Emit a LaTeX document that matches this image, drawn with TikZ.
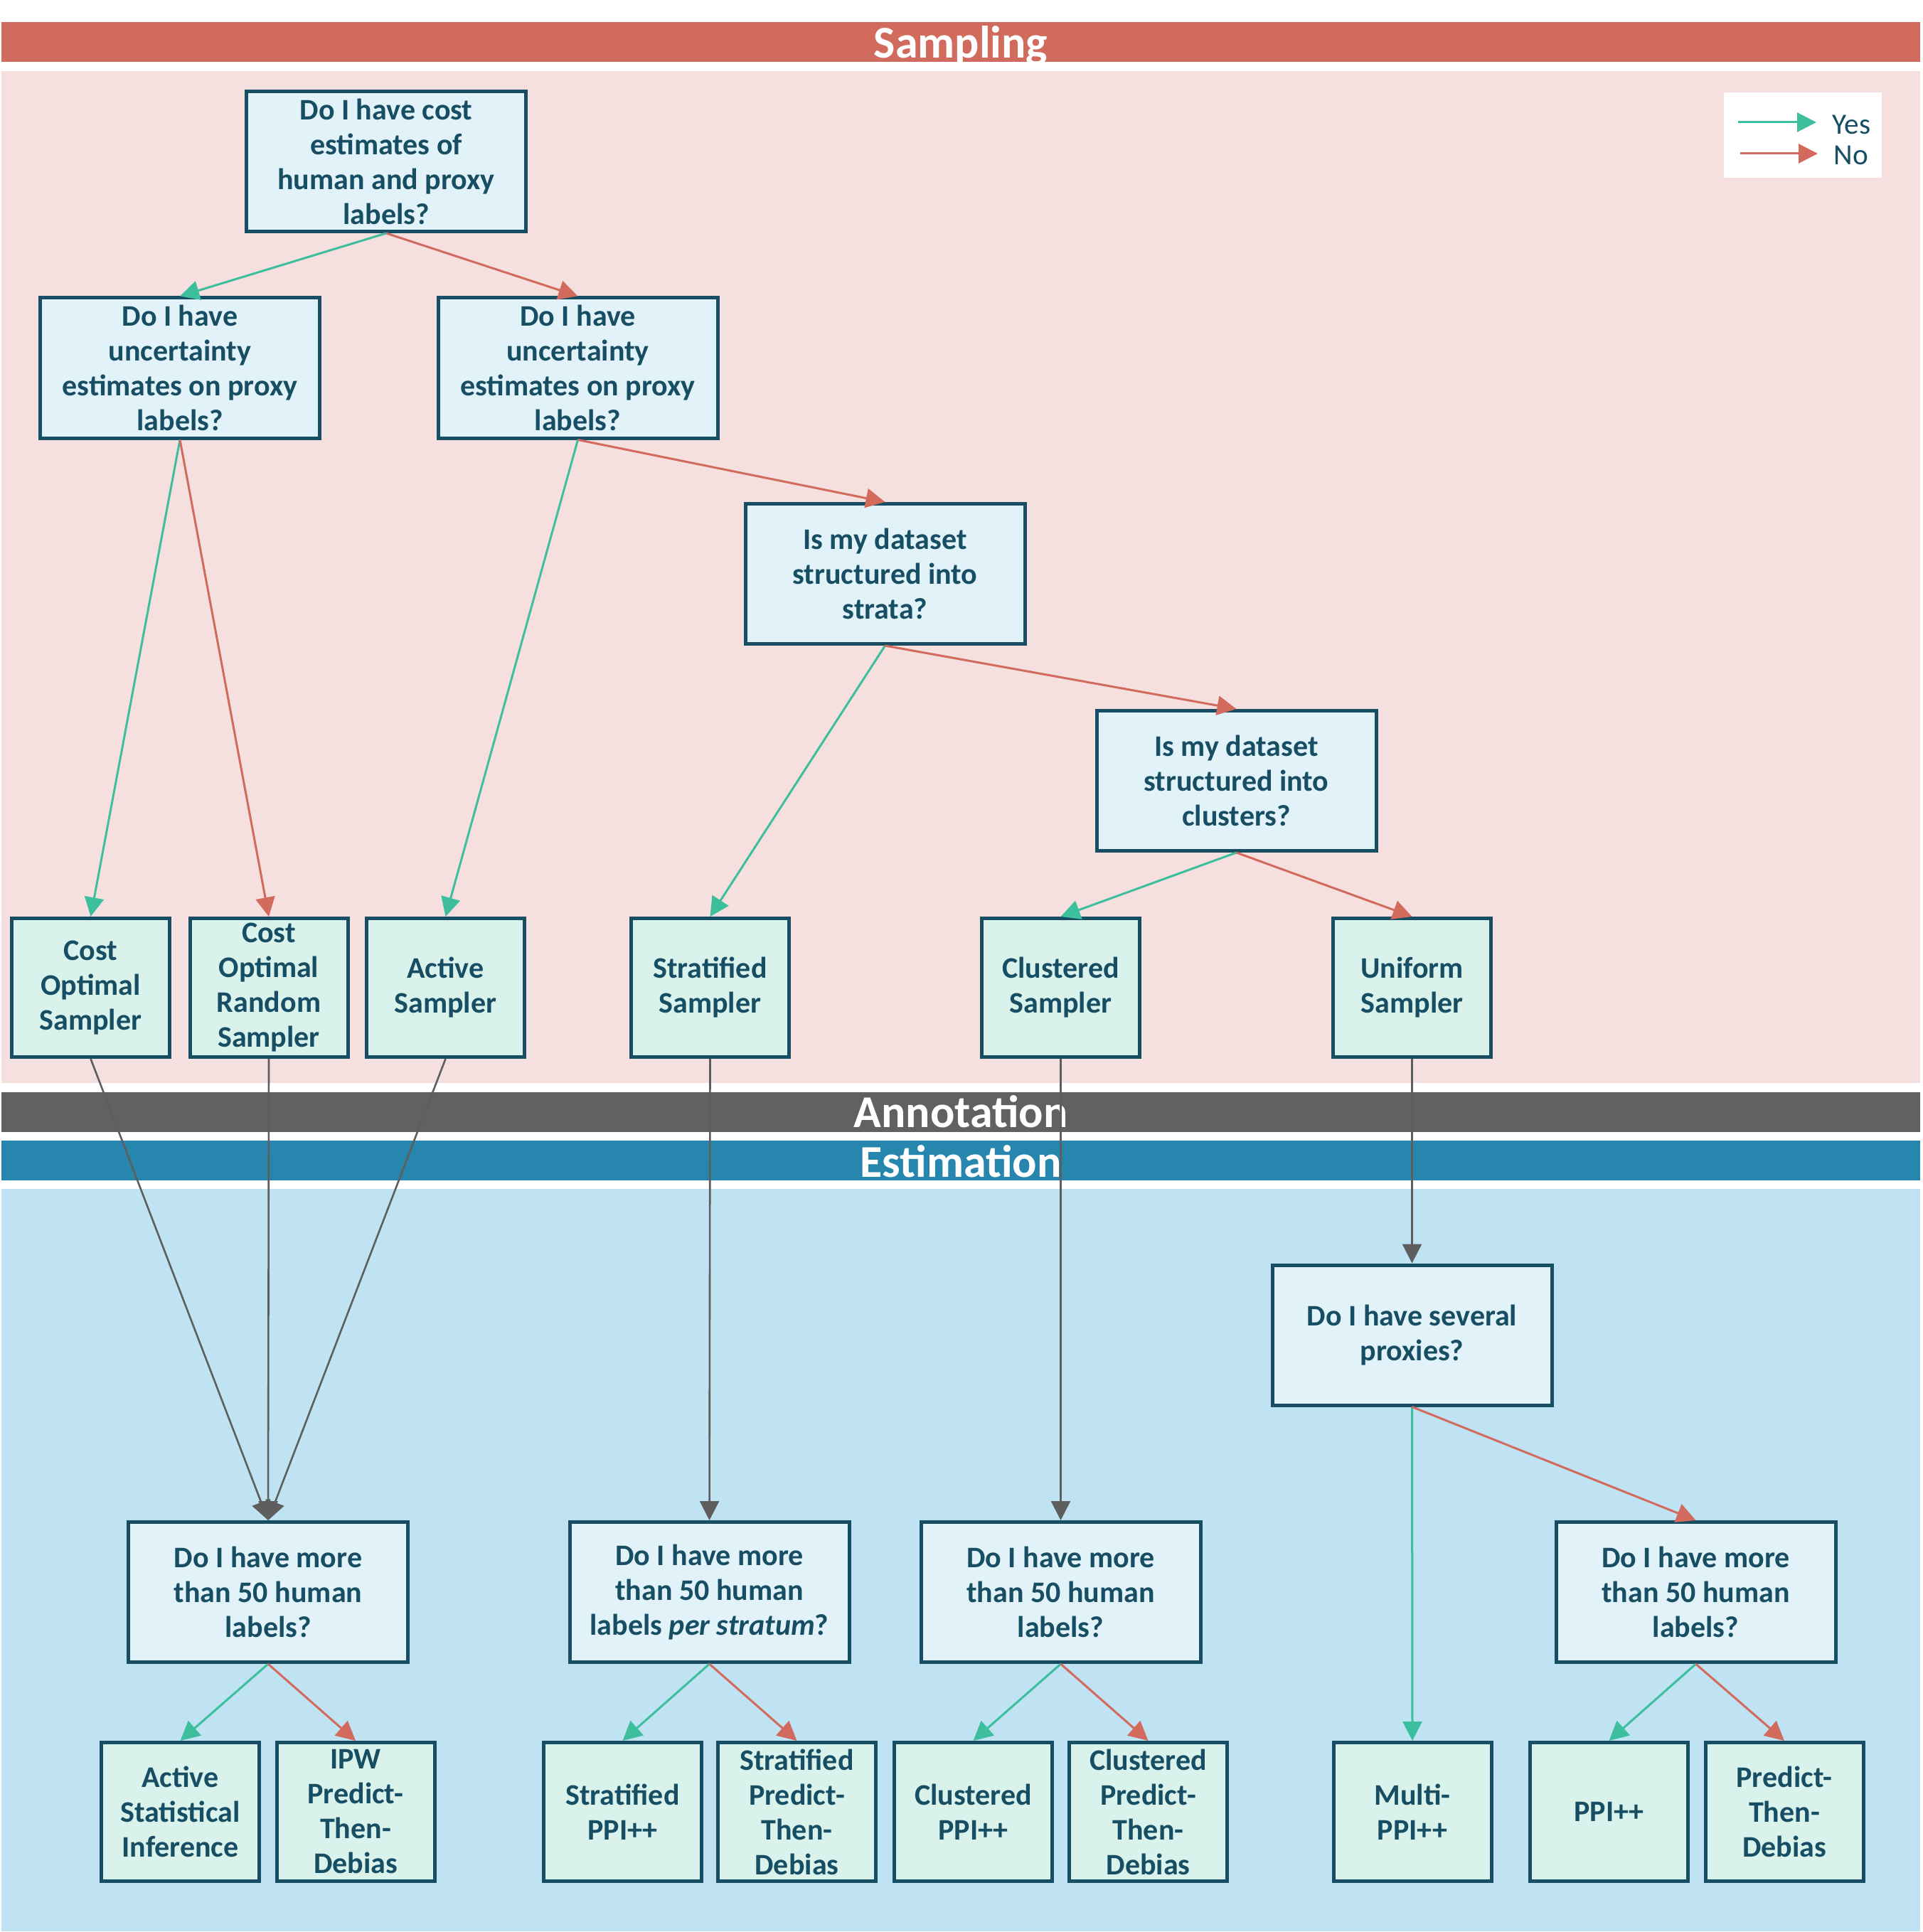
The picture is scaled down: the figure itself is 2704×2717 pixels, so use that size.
\documentclass[tikz,border=0pt]{standalone}
\usepackage{fontspec}
\setmainfont{Carlito}
\usetikzlibrary{arrows.meta}
\definecolor{sampband}{HTML}{D16B5E}
\definecolor{sampbg}{HTML}{F5E0DF}
\definecolor{annband}{HTML}{616161}
\definecolor{estband}{HTML}{2686AD}
\definecolor{estbg}{HTML}{BFE3F2}
\definecolor{qfill}{HTML}{E1F2F9}
\definecolor{lfill}{HTML}{D9F2EC}
\definecolor{bord}{HTML}{174E63}
\definecolor{yescol}{HTML}{3DBF9E}
\definecolor{nocol}{HTML}{D26A5D}
\definecolor{greycol}{HTML}{5E5E5E}
\tikzset{
  boxbase/.style={draw=bord, line width=1.25pt, inner sep=0pt, align=center, text=bord,
    font=\bfseries\fontsize{10.5}{12.25}\selectfont},
  qbox/.style={boxbase, fill=qfill, minimum width=98.25pt, minimum height=49.25pt},
  leafbox/.style={boxbase, fill=lfill, minimum width=55.5pt, minimum height=48.75pt},
  tipped/.style={line width=0.75pt, -{Triangle[length=6.75pt,width=6.75pt]}},
  yesedge/.style={tipped, draw=yescol, fill=yescol},
  noedge/.style={tipped, draw=nocol, fill=nocol},
  greyedge/.style={tipped, draw=greycol, fill=greycol, line width=0.65pt},
  bandtext/.style={text=white, font=\bfseries\fontsize{16}{19}\selectfont, inner sep=0pt, anchor=base},
  legtext/.style={text=bord, font=\fontsize{10.3}{12}\selectfont, inner sep=0pt, anchor=base west}
}
\begin{document}
\begin{tikzpicture}[x=0.25pt,y=-0.25pt]
\useasboundingbox (0,0) rectangle (2704,2717);
% backgrounds
\fill[sampbg] (2,100) rectangle (2700,1523);
\fill[estbg] (2,1672) rectangle (2700,2716);
% bands
\fill[sampband] (2,31) rectangle (2700,87);
\fill[annband] (2,1536) rectangle (2700,1592);
\fill[estband] (2,1604) rectangle (2700,1660);
\node[bandtext] (tsamp) at (1351,82) {Sampling};
\node[bandtext] (tann) at (1351,1585) {Annotation};
\node[bandtext] (test) at (1351,1655) {Estimation};
% legend
\node[fill=white, minimum width=55.5pt, minimum height=30pt, inner sep=0pt] (legbox) at (2535,190) {};
\coordinate (ys) at (2444,172);
\coordinate (ye) at (2554,172);
\coordinate (ns) at (2447,216);
\coordinate (ne) at (2556,216);
\node[legtext] (lyes) at (2576,189) {Yes};
\node[legtext] (lno) at (2578,232) {No};
\draw[yesedge] (ys) -- (ye);
\draw[noedge] (ns) -- (ne);
% sampling questions
\node[qbox] (q0) at (543,227) {Do I have cost\\estimates of\\human and proxy\\labels?};
\node[qbox] (q1) at (253,517.5) {Do I have\\uncertainty\\estimates on proxy\\labels?};
\node[qbox] (q2) at (812.5,517.5) {Do I have\\uncertainty\\estimates on proxy\\labels?};
\node[qbox] (qs) at (1244.5,807) {Is my dataset\\structured into\\strata?};
\node[qbox] (qc) at (1738.5,1098) {Is my dataset\\structured into\\clusters?};
% samplers
\node[leafbox] (cos) at (127.5,1389) {Cost\\Optimal\\Sampler};
\node[leafbox] (cor) at (378,1389) {Cost\\Optimal\\Random\\Sampler};
\node[leafbox] (act) at (626.5,1389) {Active\\Sampler};
\node[leafbox] (str) at (998.5,1389) {Stratified\\Sampler};
\node[leafbox] (clu) at (1491.5,1389) {Clustered\\Sampler};
\node[leafbox] (uni) at (1985.5,1389) {Uniform\\Sampler};
% estimation questions
\node[qbox] (qp) at (1985.5,1877.5) {Do I have several\\proxies?};
\node[qbox] (qa) at (377,2239) {Do I have more\\than 50 human\\labels?};
\node[qbox] (qb) at (997.5,2239) {Do I have more\\than 50 human\\labels \textit{per stratum}?};
\node[qbox] (qcc) at (1491.5,2239) {Do I have more\\than 50 human\\labels?};
\node[qbox] (qd) at (2384.5,2239) {Do I have more\\than 50 human\\labels?};
% estimators
\node[leafbox] (asi) at (253.5,2548) {Active\\Statistical\\Inference};
\node[leafbox] (ipw) at (500,2548) {IPW\\Predict-\\Then-\\Debias};
\node[leafbox] (sppi) at (875.5,2548) {Stratified\\PPI++};
\node[leafbox] (sptd) at (1120.5,2548) {Stratified\\Predict-\\Then-\\Debias};
\node[leafbox] (cppi) at (1368.5,2548) {Clustered\\PPI++};
\node[leafbox] (cptd) at (1614.5,2548) {Clustered\\Predict-\\Then-\\Debias};
\node[leafbox] (mppi) at (1986,2548) {Multi-\\PPI++};
\node[leafbox] (ppi) at (2262.5,2548) {PPI++};
\node[leafbox] (ptd) at (2509,2548) {Predict-\\Then-\\Debias};
% sampling edges
\draw[yesedge] (q0.south) -- (q1.north);
\draw[noedge] (q0.south) -- (q2.north);
\draw[yesedge] (q1.south) -- (cos.north);
\draw[noedge] (q1.south) -- (cor.north);
\draw[yesedge] (q2.south) -- (act.north);
\draw[noedge] (q2.south) -- (qs.north);
\draw[yesedge] (qs.south) -- (str.north);
\draw[noedge] (qs.south) -- (qc.north);
\draw[yesedge] (qc.south) -- (clu.north);
\draw[noedge] (qc.south) -- (uni.north);
% annotation edges
\draw[greyedge] (cos.south) -- (qa.north);
\draw[greyedge] (cor.south) -- (qa.north);
\draw[greyedge] (act.south) -- (qa.north);
\draw[greyedge] (str.south) -- (qb.north);
\draw[greyedge] (clu.south) -- (qcc.north);
\draw[greyedge] (uni.south) -- (qp.north);
% estimation edges
\draw[yesedge] (qp.south) -- (mppi.north);
\draw[noedge] (qp.south) -- (qd.north);
\draw[yesedge] (qa.south) -- (asi.north);
\draw[noedge] (qa.south) -- (ipw.north);
\draw[yesedge] (qb.south) -- (sppi.north);
\draw[noedge] (qb.south) -- (sptd.north);
\draw[yesedge] (qcc.south) -- (cppi.north);
\draw[noedge] (qcc.south) -- (cptd.north);
\draw[yesedge] (qd.south) -- (ppi.north);
\draw[noedge] (qd.south) -- (ptd.north);
\end{tikzpicture}
\end{document}
